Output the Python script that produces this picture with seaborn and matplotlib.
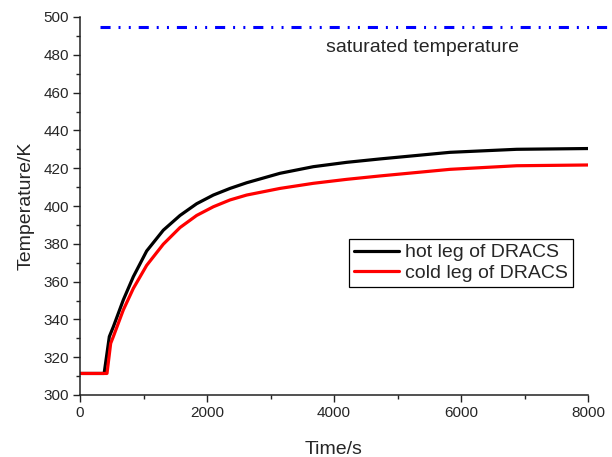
import matplotlib
matplotlib.use("Agg")
import matplotlib.pyplot as plt
import seaborn as sns
import pandas as pd

# ---- data ----
hot_time = [0, 380, 462, 525, 682, 840, 1050, 1312, 1575, 1837, 2100, 2362, 2625, 3149, 3674, 4199, 4724, 5827, 6877, 8000]
hot_temp = [311.4, 311.4, 330.9, 336.1, 350.3, 362.6, 376.2, 387.2, 395.0, 401.2, 405.8, 409.3, 412.3, 417.3, 420.8, 423.1, 424.9, 428.4, 430.0, 430.4]

cold_time = [0, 425, 483, 525, 682, 840, 1050, 1312, 1575, 1837, 2100, 2362, 2625, 3149, 3674, 4199, 4724, 5827, 6877, 8000]
cold_temp = [311.4, 311.4, 327.3, 330.9, 345.0, 356.4, 368.6, 379.8, 388.6, 395.0, 399.6, 403.2, 405.8, 409.3, 412.0, 414.1, 415.9, 419.4, 421.3, 421.7]

sat_time = [315, 8330]
sat_temp = [494.7, 494.7]

x_ticks = [0, 2000, 4000, 6000, 8000]
y_ticks = [300, 320, 340, 360, 380, 400, 420, 440, 460, 480, 500]

sns.set_style("ticks")
plt.rcParams['font.family'] = ['Liberation Sans', 'DejaVu Sans']

fig = plt.figure(figsize=(6.12, 4.57), dpi=100)
ax = fig.add_axes([80/612, 1-395/457, 508/612, 378/457])

hot = pd.DataFrame({"t": hot_time, "T": hot_temp})
cold = pd.DataFrame({"t": cold_time, "T": cold_temp})
sat = pd.DataFrame({"t": sat_time, "T": sat_temp})

sns.lineplot(data=hot, x="t", y="T", color="black", lw=2.3, label="hot leg of DRACS", ax=ax, sort=False)
sns.lineplot(data=cold, x="t", y="T", color="red", lw=2.3, label="cold leg of DRACS", ax=ax, sort=False)
sns.lineplot(data=sat, x="t", y="T", color="#0000ff", lw=2.2, ax=ax, sort=False, legend=False)
sat_line = ax.lines[-1]
sat_line.set_linestyle((0, (3.3, 2.6, 0.65, 2.7, 0.65, 2.6)))
sat_line.set_clip_on(False)
for ln in ax.lines[:2]:
    ln.set_solid_joinstyle("round")

ax.text(3880, 484, "saturated temperature", fontsize=14, va="center", ha="left")

ax.set_xlim(0, 8000)
ax.set_ylim(300, 500)
ax.set_xticks(x_ticks)
ax.set_yticks(y_ticks)
ax.set_xticklabels([str(v) for v in x_ticks])
ax.set_yticklabels([str(v) for v in y_ticks])
ax.set_xticks([1000, 3000, 5000, 7000], minor=True)
ax.set_yticks([310 + 20*i for i in range(10)], minor=True)

ax.set_xlabel("Time/s", fontsize=14, labelpad=15)
ax.set_ylabel("Temperature/K", fontsize=14, labelpad=6)
ax.tick_params(axis="both", which="major", labelsize=11, length=5, width=1, direction="out", pad=3, color="#222222")
ax.tick_params(axis="both", which="minor", length=3, width=1, direction="out", color="#222222")

sns.despine(ax=ax)
for s in ["left", "bottom"]:
    ax.spines[s].set_linewidth(1.1)
    ax.spines[s].set_color("#222222")

leg = ax.legend(loc="upper left", bbox_to_anchor=((349-80)/508, (395-239)/378), borderaxespad=0,
                fontsize=14, fancybox=False, framealpha=1, edgecolor="black",
                handlelength=2.3, handletextpad=0.35, labelspacing=0.15, borderpad=0.25)
leg.get_frame().set_linewidth(0.9)

fig.savefig("out.png", dpi=100)
